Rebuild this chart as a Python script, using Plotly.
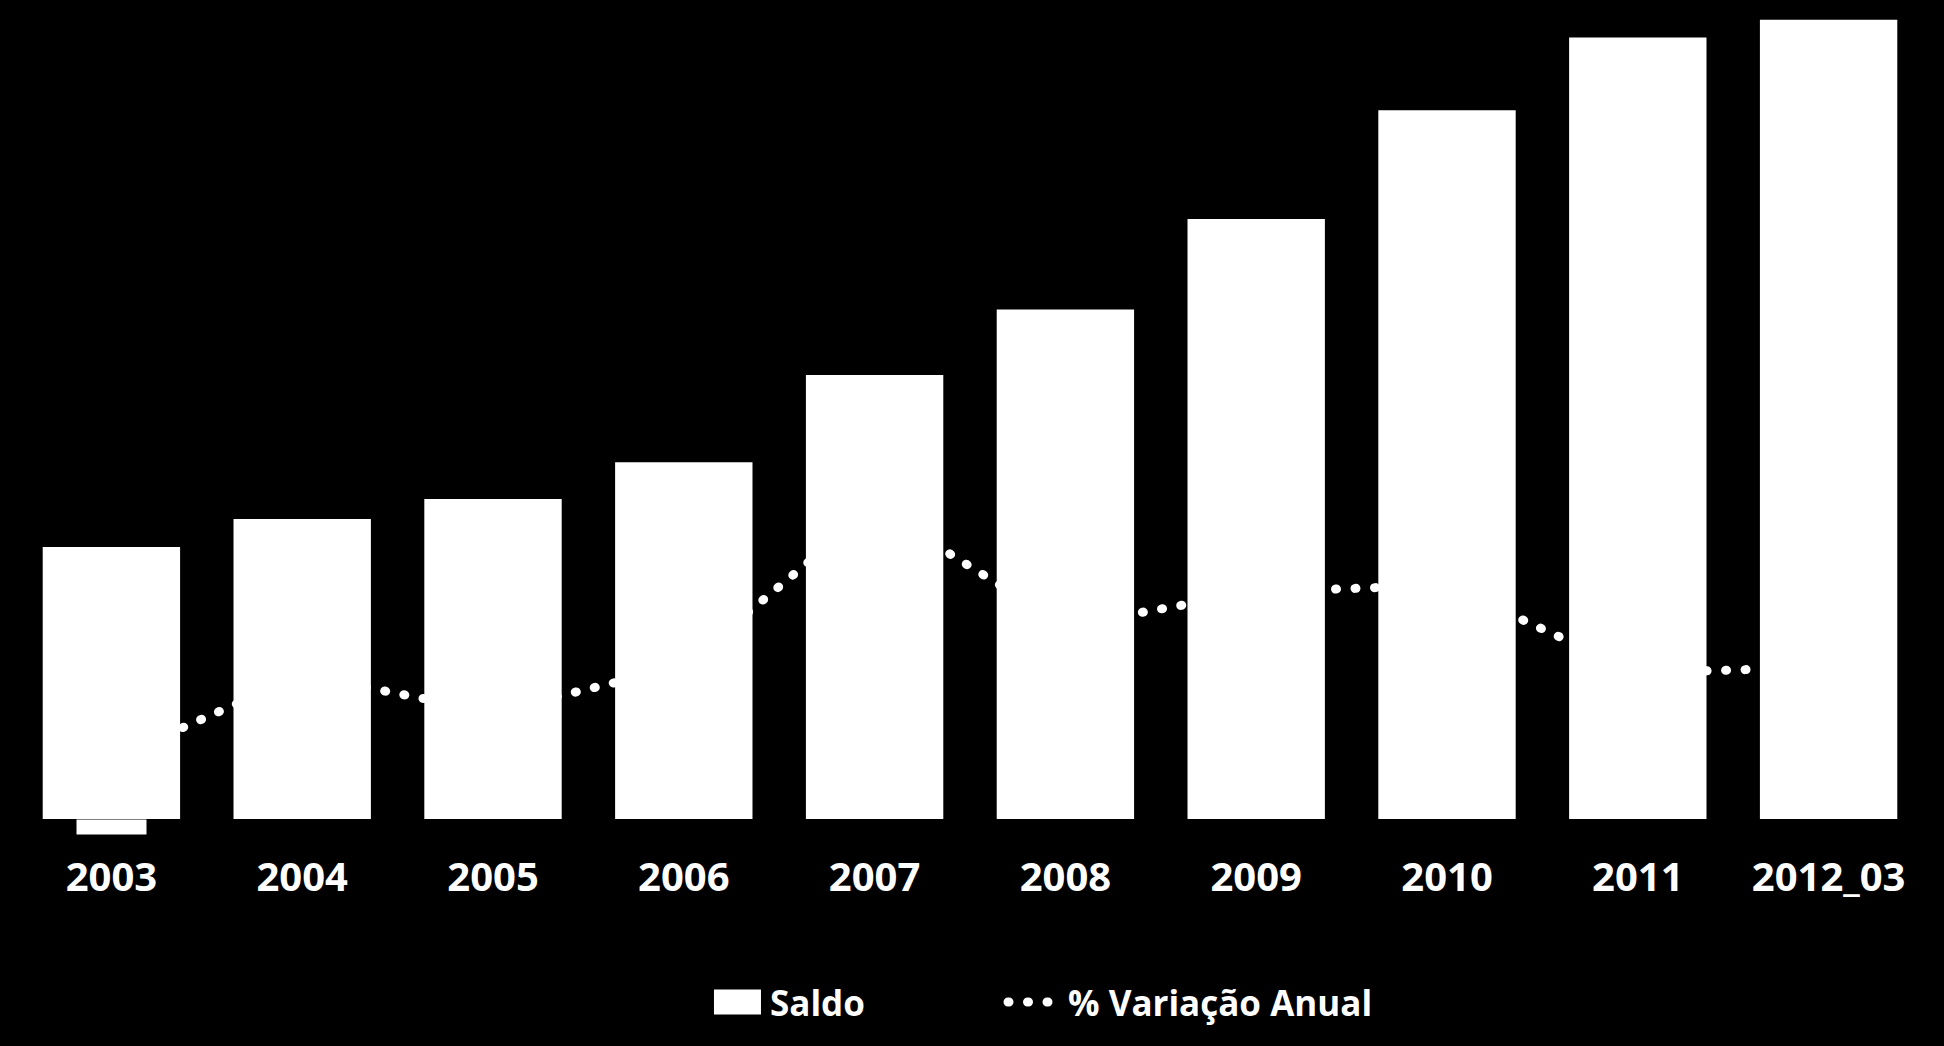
import plotly.graph_objects as go

categories = ["2003", "2004", "2005", "2006", "2007", "2008", "2009", "2010", "2011", "2012_03"]
saldo = [34.0, 37.5, 40.0, 44.6, 55.5, 63.7, 75.0, 88.6, 97.7, 99.9]
variacao = [3.0, 7.2, 5.35, 7.65, 15.6, 9.65, 11.35, 11.7, 7.3, 7.6]

legend_font = dict(family="Open Sans, sans-serif", size=35, color="white", weight="bold")

fig = go.Figure()
# line on primary axis (drawn underneath), bars on overlaying axis (drawn on top)
fig.add_trace(go.Scatter(
    x=categories, y=variacao, name="% Variação Anual", mode="lines",
    line=dict(color="white", width=9, dash="1px,18.5px"),
    yaxis="y", legend="legend2",
))
fig.add_trace(go.Bar(
    x=categories, y=saldo, name="Saldo", marker=dict(color="white", line=dict(width=0)),
    yaxis="y2", legend="legend",
))

# small white box under the first bar (category index of "2003")
fig.add_annotation(
    x=categories.index("2003"), y=0, xref="x", yref="y2", yanchor="top", xanchor="center",
    text=" ", showarrow=False, bgcolor="white", width=67, height=12,
    font=dict(size=2), borderpad=1,
)

fig.update_layout(
    width=1944, height=1046,
    paper_bgcolor="black", plot_bgcolor="black",
    margin=dict(l=16, r=20, t=19, b=227),
    bargap=0.28,
    showlegend=True,
    legend=dict(
        orientation="h", x=0.3611, xanchor="left", y=-0.229, yanchor="middle",
        font=legend_font, bgcolor="rgba(0,0,0,0)", itemwidth=55,
    ),
    legend2=dict(
        orientation="h", x=0.5173, xanchor="left", y=-0.229, yanchor="middle",
        font=legend_font, bgcolor="rgba(0,0,0,0)", itemwidth=55,
    ),
    xaxis=dict(
        type="category", range=[-0.5, len(categories) - 0.5],
        showgrid=False, zeroline=False, showline=False, ticks="",
        tickfont=dict(family="Open Sans, sans-serif", size=40, color="white", weight="bold"),
        ticklabelstandoff=31,
    ),
    yaxis=dict(range=[0, 40], visible=False, showgrid=False, zeroline=False),
    yaxis2=dict(range=[0, 100], visible=False, overlaying="y", side="right", showgrid=False, zeroline=False),
)

post = """
var gd = document.getElementById('{plot_id}');
function fixStyle(){
  gd.querySelectorAll('.scatterlayer .js-line, .legendlines path').forEach(function(p){
    p.style.strokeLinecap = 'round';
  });
  gd.querySelectorAll('.legendpoints path').forEach(function(p){
    var d = (p.getAttribute('d') || '').replace(/\\s/g, '');
    if (d === 'M6,6H-6V-6H6Z') {
      p.setAttribute('d', 'M23.5,12.5H-23.5V-12.5H23.5Z');
    }
  });
}
fixStyle();
setTimeout(fixStyle, 50);
gd.on('plotly_afterplot', fixStyle);
"""

fig.write_html("out.html", post_script=post)
